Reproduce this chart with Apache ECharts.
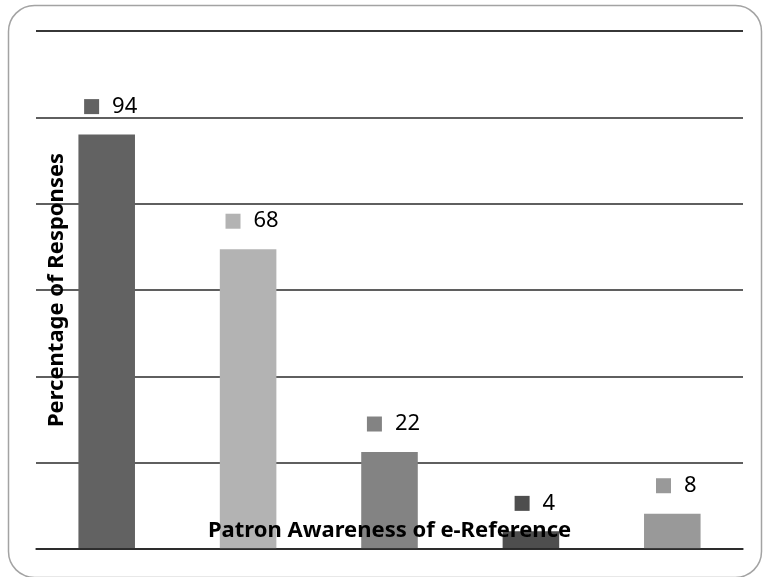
<!DOCTYPE html>
<html>
<head>
<meta charset="utf-8">
<script src="https://cdn.jsdelivr.net/npm/echarts@6/dist/echarts.min.js"></script>
<style>
html,body{margin:0;padding:0;background:#fff;}
#chart{width:764px;height:577px;}
</style>
</head>
<body>
<div id="chart"></div>
<script>
// Data
var categories = ['Category 1', 'Category 2', 'Category 3', 'Category 4', 'Category 5'];
var values = [94, 68, 22, 4, 8];
var barColors = ['#626262', '#b3b3b3', '#838383', '#4e4e4e', '#999999'];
var yTitle = 'Percentage of Responses';
var xTitle = 'Patron Awareness of e-Reference';
var yMax = 117.5;
var ySteps = 6;

var FONT = '"Noto Sans", "Open Sans", sans-serif';

var seriesData = values.map(function (v, i) {
  var rich = {
    sq: { width: 15, height: 15, backgroundColor: barColors[i] },
    v: { fontSize: 22, fontFamily: FONT, color: '#000', padding: [0, 0, 0, 13], lineHeight: 24 }
  };
  return {
    value: v,
    itemStyle: { color: barColors[i] },
    label: { rich: rich }
  };
});

var chart = echarts.init(document.getElementById('chart'), null, { renderer: 'canvas' });
chart.setOption({
  animation: false,
  backgroundColor: '#fff',
  grid: { left: 36, right: 21, top: 31, bottom: 28, containLabel: false },
  xAxis: {
    type: 'category',
    data: categories,
    z: 3,
    axisLabel: { show: false },
    axisTick: { show: false },
    axisLine: { show: true, lineStyle: { color: '#1e1e1e', width: 1.5 } },
    name: xTitle,
    nameLocation: 'middle',
    nameGap: -30,
    nameTextStyle: { fontFamily: FONT, fontSize: 22, fontWeight: 'bold', color: '#000', lineHeight: 24 }
  },
  yAxis: {
    type: 'value',
    min: 0,
    max: yMax,
    interval: yMax / ySteps,
    axisLabel: { show: false },
    axisTick: { show: false },
    axisLine: { show: false },
    splitLine: { show: true, lineStyle: { color: '#2a2a2a', width: 1.5 } },
    name: yTitle,
    nameLocation: 'middle',
    nameRotate: 90,
    nameGap: -33,
    nameTextStyle: { fontFamily: FONT, fontSize: 22, fontWeight: 'bold', color: '#000', lineHeight: 24 }
  },
  series: [{
    type: 'bar',
    data: seriesData,
    barWidth: '40%',
    z: 2,
    label: {
      show: true,
      position: 'top',
      distance: 16,
      offset: [4, 0],
      formatter: function (p) { return '{sq|}{v|' + p.value + '}'; }
    }
  }],
  graphic: [{
    type: 'rect',
    left: 6, top: 3,
    shape: { width: 753, height: 572, r: 26 },
    style: { fill: 'none', stroke: '#a3a3a3', lineWidth: 1.5 },
    silent: true
  }]
});
</script>
</body>
</html>
